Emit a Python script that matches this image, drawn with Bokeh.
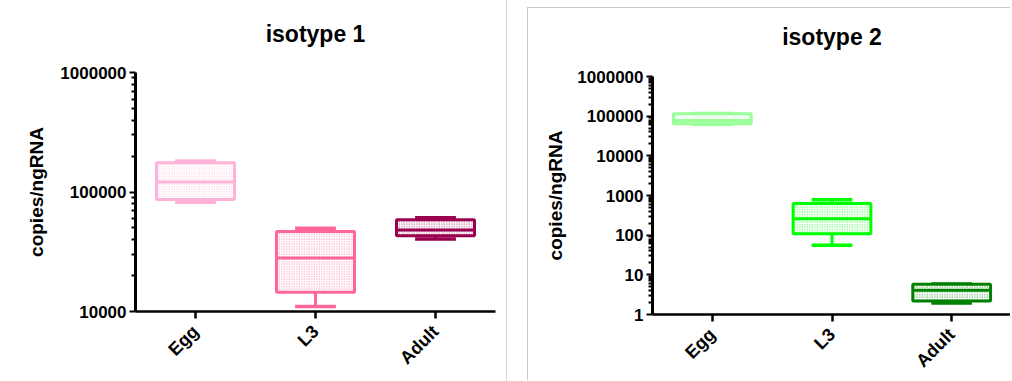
import math
from bokeh.plotting import figure
from bokeh.models import ColumnDataSource, Range1d, FactorRange, FixedTicker, PrintfTickFormatter, Spacer, Title
from bokeh.layouts import row, column
from bokeh.transform import dodge
from bokeh.embed import file_html
from bokeh.resources import INLINE

stages = ["Egg", "L3", "Adult"]

iso1_min = [82000, 11000, 40500]
iso1_q1 = [86500, 14500, 43000]
iso1_med = [121000, 28100, 48100]
iso1_q3 = [176000, 46700, 58500]
iso1_max = [182000, 49800, 60800]
iso1_colors = ["#ffb3d9", "#ff6699", "#99004d"]

iso2_min = [63000, 55.7, 1.95]
iso2_q1 = [64000, 109, 2.2]
iso2_med = [78000, 258, 4.1]
iso2_q3 = [115000, 628, 5.8]
iso2_max = [116000, 781, 5.9]
iso2_colors = ["#99ff99", "#00ff00", "#008000"]

FONT = "Liberation Sans"


def panel(title, lo_exp, hi_exp, mins, q1, med, q3, maxs, colors,
          width, height, ml, mt, mr, mb, title_offset, gap_size, label_standoff, styles):
    p = figure(width=width, height=height, x_range=FactorRange(*stages, range_padding=0),
               y_range=Range1d(10 ** lo_exp, 10 ** hi_exp), y_axis_type="log",
               output_backend="svg", toolbar_location=None,
               min_border_left=ml, min_border_top=mt, min_border_right=mr, min_border_bottom=mb,
               styles=styles)
    p.outline_line_color = None
    p.xgrid.grid_line_color = None
    p.ygrid.grid_line_color = None
    p.background_fill_color = "white"
    p.border_fill_color = "white"

    p.add_layout(Title(text=" ", text_font_size=gap_size, text_color="white"), "above")
    p.add_layout(Title(text=title, align="center", offset=title_offset, text_font=FONT,
                       text_font_size="23px", text_font_style="bold", text_color="black"), "above")

    major = [10 ** k for k in range(lo_exp, hi_exp + 1)]
    minor = [m * 10 ** k for k in range(lo_exp, hi_exp) for m in range(2, 10)]
    ya = p.yaxis[0]
    ya.ticker = FixedTicker(ticks=major, minor_ticks=minor)
    ya.formatter = PrintfTickFormatter(format="%d")
    ya.axis_label = "copies/ngRNA"
    ya.axis_label_text_font = FONT
    ya.axis_label_text_font_size = "19px"
    ya.axis_label_text_font_style = "bold"
    ya.axis_label_text_color = "black"
    ya.axis_label_standoff = label_standoff
    ya.major_label_text_font = FONT
    ya.major_label_text_font_size = "17px"
    ya.major_label_text_font_style = "bold"
    ya.major_label_text_color = "black"
    ya.major_label_standoff = 3
    ya.axis_line_width = 3
    ya.major_tick_line_width = 2
    ya.minor_tick_line_width = 2
    ya.major_tick_in = 0
    ya.major_tick_out = 6
    ya.minor_tick_in = 0
    ya.minor_tick_out = 4

    xa = p.xaxis[0]
    xa.axis_line_width = 2.5
    xa.major_tick_line_width = 2.5
    xa.major_tick_in = 0
    xa.major_tick_out = 7
    xa.major_label_orientation = math.pi / 4
    xa.major_label_text_font = FONT
    xa.major_label_text_font_size = "18px"
    xa.major_label_text_font_style = "bold"
    xa.major_label_text_color = "black"
    xa.major_label_standoff = 10

    src = ColumnDataSource(dict(x=stages, lo=mins, q1=q1, med=med, q3=q3, hi=maxs, color=colors))
    p.segment(x0="x", y0="q3", x1="x", y1="hi", line_color="color", line_width=3, source=src)
    p.segment(x0="x", y0="q1", x1="x", y1="lo", line_color="color", line_width=3, source=src)
    for yk in ("hi", "lo"):
        p.segment(x0=dodge("x", -0.17, range=p.x_range), y0=yk,
                  x1=dodge("x", 0.17, range=p.x_range), y1=yk,
                  line_color="color", line_width=3.5, source=src)
    p.vbar(x="x", width=0.65, top="q3", bottom="q1", fill_color="white", line_color="color",
           line_width=3, hatch_pattern="dot", hatch_color="color", hatch_scale=2.5,
           hatch_alpha=0.75, hatch_weight=1.3, source=src)
    p.segment(x0=dodge("x", -0.325, range=p.x_range), y0="med",
              x1=dodge("x", 0.325, range=p.x_range), y1="med",
              line_color="color", line_width=3, source=src)
    return p


p1 = panel("isotype 1", 4, 6, iso1_min, iso1_q1, iso1_med, iso1_q3, iso1_max, iso1_colors,
           507, 381, 135, 72, 12, 70, -39, "8px", 10, {"border-right": "1px solid #d6d6d6"})
p2 = panel("isotype 2", 0, 6, iso2_min, iso2_q1, iso2_med, iso2_q3, iso2_max, iso2_colors,
           483, 373, 124, 68, 0, 64, -37, "9px", 8,
           {"border-top": "1px solid #c8c8c8", "border-left": "1px solid #c8c8c8"})

layout = row(p1, column(Spacer(height=7, width=20), row(Spacer(width=20, height=10), p2)))

open("out.html", "w").write(file_html(layout, INLINE))
